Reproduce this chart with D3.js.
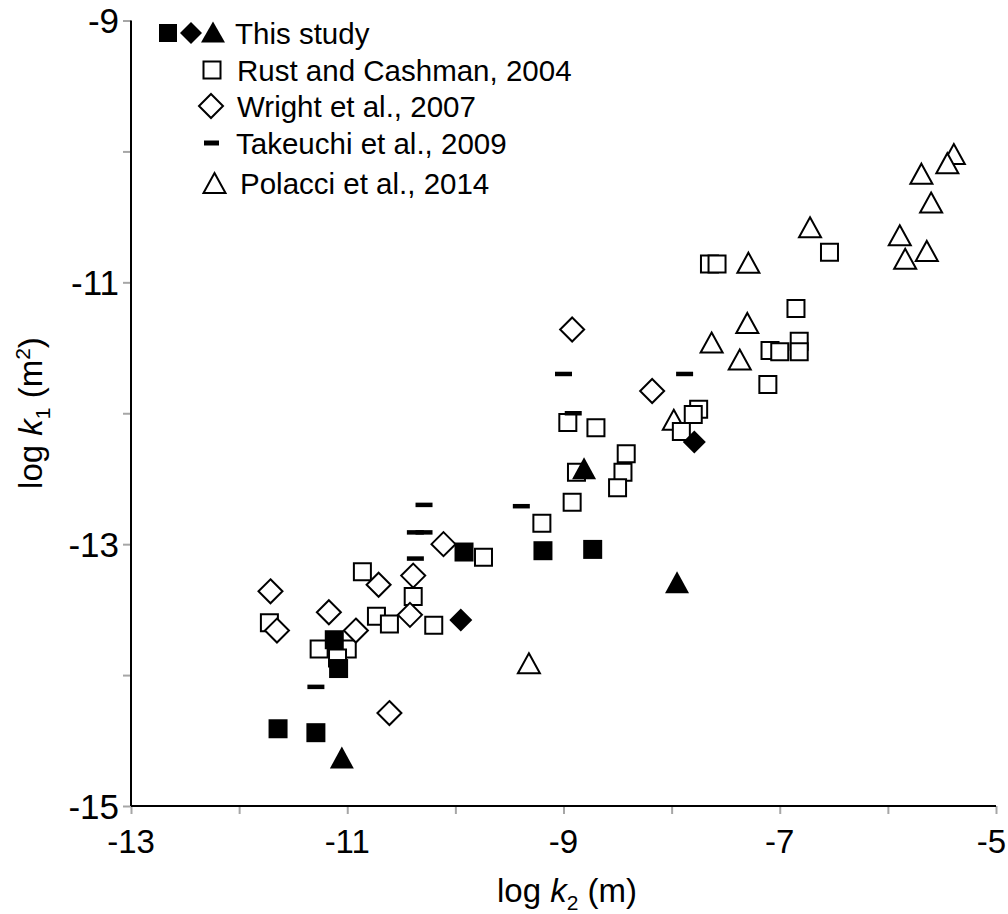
<!DOCTYPE html>
<html>
<head>
<meta charset="utf-8">
<script src="https://cdn.jsdelivr.net/npm/d3@7"></script>
<style>
  html, body { margin: 0; padding: 0; background: #fff; }
  svg { display: block; font-family: "Liberation Sans", Arial, sans-serif; }
</style>
</head>
<body>
<svg id="chart" width="1008" height="914"></svg>
<script>
// Axis domains and ticks (log k2 on x, log k1 on y)
const xDomain = [-13, -5];
const yDomain = [-15, -9];
const xTicks = [-13, -12, -11, -10, -9, -8, -7, -6, -5];
const xTickLabels = [-13, -11, -9, -7, -5];
const yTicks = [-15, -14, -13, -12, -11, -10, -9];
const yTickLabels = [-15, -13, -11, -9];

// This study: filled squares, diamonds, triangles  [log k2, log k1]
const thisStudySquares = [
  [-9.92, -13.06], [-9.19, -13.05], [-8.73, -13.04], [-11.12, -13.73],
  [-11.08, -13.95], [-11.64, -14.41], [-11.29, -14.44]
];
const thisStudyDiamonds = [[-9.95, -13.58], [-7.79, -12.22]];
const thisStudyTriangles = [[-8.81, -12.42], [-7.95, -13.29], [-11.05, -14.63]];

// Rust and Cashman, 2004
const rustCashman = [
  [-9.20, -12.84], [-9.74, -13.10], [-10.86, -13.21], [-10.39, -13.40],
  [-11.72, -13.60], [-10.73, -13.55], [-10.61, -13.61], [-10.20, -13.62],
  [-11.26, -13.80], [-11.00, -13.80], [-11.09, -13.87], [-8.96, -12.07],
  [-8.70, -12.11], [-8.42, -12.31], [-8.45, -12.45], [-8.88, -12.45],
  [-8.50, -12.57], [-8.92, -12.68], [-7.75, -11.97], [-7.80, -12.01],
  [-7.91, -12.14], [-7.65, -10.86], [-7.58, -10.86], [-6.54, -10.77],
  [-6.85, -11.20], [-6.82, -11.45], [-6.82, -11.53], [-7.09, -11.52],
  [-7.00, -11.53], [-7.11, -11.78]
];

// Wright et al., 2007
const wright = [
  [-10.11, -13.00], [-10.71, -13.31], [-10.39, -13.24], [-11.71, -13.36],
  [-11.65, -13.66], [-11.17, -13.52], [-10.42, -13.54], [-10.92, -13.66],
  [-10.61, -14.29], [-8.92, -11.36], [-8.18, -11.83]
];

// Takeuchi et al., 2009
const takeuchi = [
  [-10.29, -12.70], [-9.39, -12.71], [-10.37, -12.91], [-10.29, -12.91],
  [-10.37, -13.11], [-11.29, -14.09], [-9.00, -11.70], [-8.91, -12.00],
  [-7.88, -11.70]
];

// Polacci et al., 2014
const polacci = [
  [-5.39, -10.02], [-5.45, -10.09], [-5.69, -10.17], [-5.60, -10.39],
  [-5.89, -10.64], [-5.64, -10.76], [-5.84, -10.82], [-6.72, -10.58],
  [-7.29, -10.85], [-7.30, -11.31], [-7.63, -11.46], [-7.37, -11.59],
  [-7.98, -12.05], [-9.32, -13.91]
];

const legendLabels = ["This study", "Rust and Cashman, 2004", "Wright et al., 2007",
                      "Takeuchi et al., 2009", "Polacci et al., 2014"];

const W = 1008;
const svg = d3.select("#chart");
const x = d3.scaleLinear().domain(xDomain).range([131, 996]);
const y = d3.scaleLinear().domain(yDomain).range([806, 20.5]);

// Marker shapes
const sq = s => `M${-s/2},${-s/2}H${s/2}V${s/2}H${-s/2}Z`;
const dia = r => `M0,${-r}L${r},0L0,${r}L${-r},0Z`;
const tri = (w, h) => `M0,${-h/2}L${w/2},${h/2}L${-w/2},${h/2}Z`;
const dash = (w, h) => `M${-w/2},${-h/2}H${w/2}V${h/2}H${-w/2}Z`;

// Axes
const tickColor = "#a6a6a6";
const xAxis = svg.append("g").attr("transform", `translate(0,${y(-15)})`)
  .call(d3.axisBottom(x).tickValues(xTicks).tickSize(8).tickFormat(""));
const yAxis = svg.append("g").attr("transform", `translate(${x(-13)},0)`)
  .call(d3.axisLeft(y).tickValues(yTicks).tickSize(8).tickFormat(""));
[xAxis, yAxis].forEach(g => {
  g.select(".domain").remove();
  g.selectAll(".tick line").attr("stroke", tickColor).attr("stroke-width", 2);
});
svg.append("line").attr("x1", x(-13)).attr("x2", x(-13)).attr("y1", y(-9)).attr("y2", y(-15))
  .attr("stroke", "#000").attr("stroke-width", 2);
svg.append("line").attr("x1", x(-13)).attr("x2", x(-5)).attr("y1", y(-15)).attr("y2", y(-15))
  .attr("stroke", "#000").attr("stroke-width", 2);

// Tick labels (the last x label is kept inside the canvas)
const fmt = v => (v < 0 ? "-" : "") + Math.abs(v);
svg.append("g").selectAll("text").data(xTickLabels).join("text")
  .attr("y", 853).attr("font-size", 33).text(fmt)
  .attr("text-anchor", "middle")
  .attr("x", function (d) {
    const w = this.getComputedTextLength();
    return Math.min(x(d), W - 2 - w / 2);
  });
svg.append("g").selectAll("text").data(yTickLabels).join("text")
  .attr("x", 119).attr("y", d => y(d) + 12.5)
  .attr("text-anchor", "end").attr("font-size", 35).text(fmt);

// Axis titles
const xt = svg.append("text").attr("x", 567).attr("y", 902).attr("text-anchor", "middle").attr("font-size", 33);
xt.append("tspan").text("log ");
xt.append("tspan").attr("font-style", "italic").text("k");
xt.append("tspan").attr("font-size", 21).attr("dy", 8).text("2");
xt.append("tspan").attr("dy", -8).text(" (m)");

const yt = svg.append("text").attr("transform", `translate(42,413) rotate(-90)`)
  .attr("text-anchor", "middle").attr("font-size", 33);
yt.append("tspan").text("log ");
yt.append("tspan").attr("font-style", "italic").text("k");
yt.append("tspan").attr("font-size", 21).attr("dy", 8).text("1");
yt.append("tspan").attr("dy", -8).text(" (m");
yt.append("tspan").attr("font-size", 21).attr("dy", -12).text("2");
yt.append("tspan").attr("dy", 12).text(")");

// Data layers, drawn back to front
const plot = svg.append("g");
function markers(data, path, fill, stroke, sw) {
  plot.append("g").selectAll("path").data(data).join("path")
    .attr("transform", d => `translate(${x(d[0])},${y(d[1])})`)
    .attr("d", path).attr("fill", fill).attr("stroke", stroke).attr("stroke-width", sw);
}
markers(polacci, tri(22, 20), "#fff", "#000", 2);
markers(rustCashman, sq(17), "#fff", "#000", 2);
markers(wright, dia(12), "#fff", "#000", 2);
markers(takeuchi, dash(17, 4.5), "#000", "none", 0);
markers(thisStudySquares, sq(19), "#000", "none", 0);
markers(thisStudyDiamonds, dia(11.5), "#000", "none", 0);
markers(thisStudyTriangles, tri(24, 22), "#000", "none", 0);

// Legend
const leg = svg.append("g");
const legY = [33, 70, 106, 143, 183];
leg.append("path").attr("transform", `translate(168,${legY[0]})`).attr("d", sq(18)).attr("fill", "#000");
leg.append("path").attr("transform", `translate(191,${legY[0]})`).attr("d", dia(11)).attr("fill", "#000");
leg.append("path").attr("transform", `translate(213,${legY[0] - 1})`).attr("d", tri(24, 21)).attr("fill", "#000");
leg.append("path").attr("transform", `translate(212,${legY[1]})`).attr("d", sq(17)).attr("fill", "#fff").attr("stroke", "#000").attr("stroke-width", 2);
leg.append("path").attr("transform", `translate(211,${legY[2]})`).attr("d", dia(12)).attr("fill", "#fff").attr("stroke", "#000").attr("stroke-width", 2);
leg.append("path").attr("transform", `translate(211.5,${legY[3]})`).attr("d", dash(15, 5)).attr("fill", "#000");
leg.append("path").attr("transform", `translate(214.5,${legY[4]})`).attr("d", tri(22, 20)).attr("fill", "#fff").attr("stroke", "#000").attr("stroke-width", 2);
const legX = [235, 237, 237, 236, 240];
leg.selectAll("text").data(legendLabels).join("text")
  .attr("x", (d, i) => legX[i]).attr("y", (d, i) => legY[i] + 10.5)
  .attr("font-size", 29.5).text(d => d);
</script>
</body>
</html>
